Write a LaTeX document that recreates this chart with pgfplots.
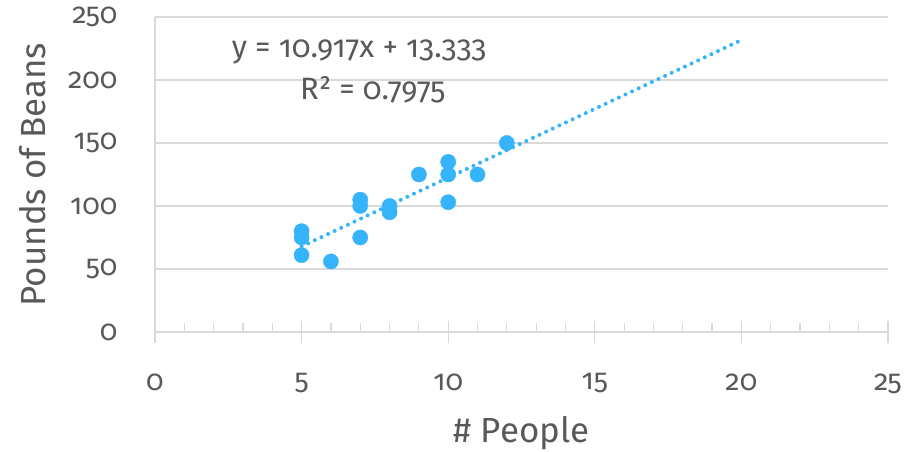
\documentclass[border=0pt]{standalone}
\usepackage{pgfplots}
\pgfplotsset{compat=1.18}
\usepackage{fontspec}
\setmainfont{Fira Sans}[Numbers=OldStyle]
\definecolor{txt}{HTML}{595959}
\definecolor{dot}{HTML}{35B4FB}
\definecolor{grd}{HTML}{D9D9D9}
\begin{document}
\begin{tikzpicture}[x=1bp,y=1bp]
\path[use as bounding box] (-155,-120) rectangle (761,332);
\begin{axis}[
  at={(0,0)}, anchor=origin,
  scale only axis, width=733bp, height=315bp,
  xmin=0, xmax=25, ymin=0, ymax=250,
  xtick={0,5,10,15,20,25}, ytick={0,50,100,150,200,250},
  minor x tick num=4,
  axis x line=bottom, axis y line=left,
  axis line style={draw=grd, line width=1.2bp, -},
  y axis line style={shorten <=-11bp},
  ymajorgrids, grid style={draw=grd, line width=1.2bp},
  xtick align=center,
  major x tick style={draw=grd, line width=1.2bp},
  minor x tick style={draw=grd, line width=1.2bp, yshift=4.5bp},
  major tick length=22bp, minor tick length=9bp,
  ytick style={draw=none},
  /pgf/number format/assume math mode=true,
  tick label style={font=\fontsize{29}{33}\selectfont, text=txt},
  xticklabel style={yshift=-27bp},
  yticklabel style={xshift=-23bp},
  label style={font=\fontsize{35}{40}\selectfont, text=txt},
  xlabel={\# People}, ylabel={Pounds of Beans},
  xlabel style={at={(axis description cs:0.5,0)}, anchor=center, yshift=-101bp},
  ylabel style={at={(axis description cs:0,0.5)}, anchor=center, yshift=122bp},
  clip=false,
]
\addplot[only marks, mark=*, mark size=7.6bp, mark options={draw=dot, fill=dot}] coordinates {
(5,80) (5,75) (5,61) (6,56) (7,105) (7,100) (7,75) (8,100) (8,95) (9,125) (10,135) (10,125) (10,103) (11,125) (12,150)
};
\addplot[dot, line width=4bp, dash pattern=on 0bp off 7.3bp, line cap=round] coordinates {(5,67.918) (20,231.673)};
\node[text=txt, font=\fontsize{31}{36}\selectfont] at (axis cs:6.96,222) {y = 10.917x + 13.333};
\node[text=txt, font=\fontsize{31}{36}\selectfont] at (axis cs:7.43,192) {R² = 0.7975};
\end{axis}
\end{tikzpicture}
\end{document}
